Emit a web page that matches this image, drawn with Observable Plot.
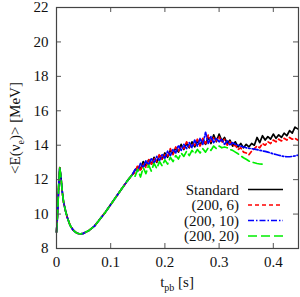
<!DOCTYPE html>
<html><head><meta charset="utf-8">
<script src="https://cdn.jsdelivr.net/npm/d3@7"></script>
<script src="https://cdn.jsdelivr.net/npm/@observablehq/plot@0.6"></script>
<style>body{margin:0;background:#fff}#chart{width:300px;height:297px}</style>
</head><body><div id="chart"></div>
<script>
const xTicks = [0, 0.1, 0.2, 0.3, 0.4];
const xTickLabels = ["0", "0.1", "0.2", "0.3", "0.4"];
const yTicks = [8, 10, 12, 14, 16, 18, 20, 22];
const seriesNames = ["Standard", "(200, 6)", "(200, 10)", "(200, 20)"];

// shared early phase (all models identical)
const tEarly = [0, 0.002, 0.004, 0.006, 0.008, 0.0105, 0.013, 0.0166, 0.02, 0.025, 0.03, 0.035, 0.04, 0.045, 0.05, 0.06, 0.07, 0.08, 0.09, 0.1, 0.11, 0.12, 0.13, 0.14];
const eEarly = [8.95, 10.0, 11.6, 12.7, 12.2, 11.35, 10.7, 10.19, 9.8, 9.35, 9.1, 8.95, 8.87, 8.85, 8.88, 9.05, 9.3, 9.7, 10.1, 10.55, 11.0, 11.45, 11.9, 12.3];

// later, noisy phase
const tNoisy = [0.145,0.15,0.155,0.16,0.165,0.17,0.175,0.18,0.185,0.19,0.195,0.2,0.205,0.21,0.215,0.22,0.225,0.23,0.235,0.24,0.245,0.25,0.255,0.26,0.265,0.27,0.275,0.28,0.285,0.29,0.295,0.3,0.305,0.31,0.315,0.32,0.325,0.33,0.335,0.34,0.345,0.35,0.355,0.36,0.365,0.37,0.375,0.38,0.385,0.39,0.395,0.4,0.405,0.41,0.415,0.42,0.425,0.43,0.435,0.44,0.445];
const eStandard = [12.55,12.75,12.6,13.05,12.8,13.15,12.9,13.3,13.0,13.4,13.2,13.55,13.3,13.7,13.5,13.85,13.6,14.05,13.75,14.1,13.85,14.2,13.9,14.25,14.0,14.35,14.05,14.45,14.1,14.6,14.2,14.65,14.25,14.45,14.1,14.3,13.95,14.2,13.9,14.1,13.85,14.05,13.9,14.1,14.0,14.45,14.15,14.55,14.3,14.5,14.35,14.65,14.4,14.6,14.45,14.7,14.55,14.85,14.7,15.05,14.95];
const e200_6 = [12.4,12.85,12.5,12.95,12.7,13.2,12.85,13.25,13.05,13.5,13.15,13.45,13.35,13.8,13.45,13.9,13.65,13.95,13.8,14.2,13.9,14.1,14.0,14.35,13.95,14.4,14.1,14.6,14.15,14.45,14.25,14.5,14.15,14.35,14.0,14.2,13.95,14.0,13.75,13.85,13.6,13.55,13.45,13.65,13.8,13.95,13.85,14.1,14.0,14.2,14.1,14.3,14.2,14.35,14.25,14.4,14.3,14.45,14.35,14.4,14.3];
const e200_10 = [12.6,12.5,12.95,12.7,13.1,12.85,13.25,12.95,13.35,13.1,13.45,13.25,13.65,13.4,13.75,13.55,14.0,13.7,14.05,13.8,14.15,13.85,14.3,13.95,14.4,14.05,14.75,14.1,14.5,14.15,14.4,14.2,14.35,14.05,14.25,14.0,14.15,14.05,14.0,13.95,13.9,13.85,13.82,13.8,13.77,13.74,13.7,13.67,13.64,13.6,13.55,13.5,13.46,13.42,13.38,13.35,13.33,13.33,13.35,13.38,13.42];
const e200_20 = [12.2,12.6,12.15,12.7,12.35,12.85,12.5,12.95,12.65,13.05,12.8,13.15,12.9,13.3,13.05,13.4,13.2,13.55,13.35,13.65,13.4,13.7,13.5,13.75,13.55,13.8,13.6,13.85,13.7,13.95,13.8,13.95,13.85,13.9,13.85,13.75,13.7,13.6,13.5,13.38,13.27,13.18,13.08,13.02,12.98,12.94,12.91,12.9,12.92];

const styles = [
  {color: "#000000", dash: null},
  {color: "#ff0000", dash: "4,3"},
  {color: "#0000ff", dash: "6,2,1.5,2"},
  {color: "#00ee00", dash: "9,4"}
];
const seriesValues = [eStandard, e200_6, e200_10, e200_20];

const lines = seriesNames.map((name, k) => {
  const rows = tEarly.map((t, i) => ({t, e: eEarly[i]}))
    .concat(seriesValues[k].map((v, i) => ({t: tNoisy[i], e: v})));
  return Plot.line(rows, {x: "t", y: "e", stroke: styles[k].color, strokeWidth: 1.7, strokeDasharray: styles[k].dash});
});

const FONT = "Liberation Serif";
const W = 300, H = 297, mL = 56, mR = 2, mT = 7, mB = 49;
const plot = Plot.plot({
  width: W, height: H,
  marginLeft: mL, marginRight: mR, marginTop: mT, marginBottom: mB,
  style: {fontFamily: FONT, fontSize: "15px", background: "#fff", overflow: "visible"},
  x: {domain: [0, 0.4465]},
  y: {domain: [8, 22]},
  marks: [
    ...lines,
    Plot.ruleX(xTicks, {insetTop: 236, stroke: "#555"}),
    Plot.ruleX(xTicks, {insetBottom: 236, stroke: "#555"}),
    Plot.ruleY(yTicks, {insetRight: 237, stroke: "#555"}),
    Plot.ruleY(yTicks, {insetLeft: 237, stroke: "#555"}),
    Plot.axisX({ticks: xTicks, tickSize: 0, tickPadding: 8, tickFormat: (d, i) => xTickLabels[i], label: null, fill: "#111", fontFamily: FONT}),
    Plot.axisY({ticks: yTicks, tickSize: 0, tickPadding: 8, label: null, fill: "#111", fontFamily: FONT}),
    Plot.frame({stroke: "#444", strokeWidth: 1.2})
  ]
});
document.getElementById("chart").appendChild(plot);

const svg = d3.select(plot);
// y label
const yl = svg.append("text").attr("transform", "translate(20,128) rotate(-90)")
  .attr("text-anchor", "middle").attr("font-size", 15).attr("fill", "#111");
yl.append("tspan").text("<E(ν");
yl.append("tspan").attr("font-size", 10).attr("dy", 4).text("e");
yl.append("tspan").attr("dy", -4).text(")> [MeV]");
// x label
const xl = svg.append("text").attr("x", 177).attr("y", 287)
  .attr("text-anchor", "middle").attr("font-size", 15).attr("fill", "#111");
xl.append("tspan").text("t");
xl.append("tspan").attr("font-size", 10).attr("dy", 4).text("pb");
xl.append("tspan").attr("dy", -4).text(" [s]");
// legend
seriesNames.forEach((name, k) => {
  const yy = 189.5 + 15.5 * k;
  svg.append("text").attr("x", 239).attr("y", yy + 5).attr("text-anchor", "end")
    .attr("font-size", 15).attr("fill", "#111").text(name);
  svg.append("line").attr("x1", 248).attr("x2", 283).attr("y1", yy).attr("y2", yy)
    .attr("stroke", styles[k].color).attr("stroke-width", 1.7)
    .attr("stroke-dasharray", styles[k].dash);
});
svg.selectAll("text").attr("font-family", FONT);
</script></body></html>
